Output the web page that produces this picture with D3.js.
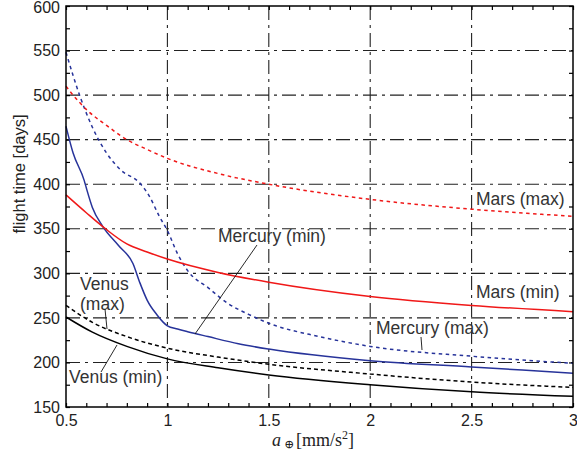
<!DOCTYPE html>
<html>
<head>
<meta charset="utf-8">
<script src="https://cdn.jsdelivr.net/npm/d3@7"></script>
<style>
  body { margin: 0; background: #fff; }
</style>
</head>
<body>
<div id="chartArea"></div>
<script>
// values: [acceleration mm/s^2, flight time days]
var marsMax = [[0.5, 510], [0.535, 500], [0.6, 484], [0.7, 466], [0.8, 450], [0.9, 439], [1.0, 429],
    [1.25, 412], [1.5, 400], [2.0, 383], [2.5, 372], [3.0, 364]];
var marsMin = [[0.5, 388], [0.6, 368], [0.7, 349], [0.8, 333], [0.9, 324], [1.0, 316],
    [1.25, 301], [1.5, 290], [2.0, 274], [2.5, 264], [3.0, 257]];
var mercuryMax = [[0.5, 548], [0.57, 498], [0.63, 464], [0.7, 435], [0.77, 416], [0.865, 401], [0.91, 387],
    [0.96, 364], [1.0, 348], [1.05, 322], [1.1, 303], [1.2, 284], [1.3, 266], [1.4, 254], [1.5, 244],
    [1.75, 229], [2.0, 218], [2.5, 207], [3.0, 199]];
var mercuryMin = [[0.5, 465], [0.535, 435], [0.59, 404], [0.6, 396], [0.63, 374], [0.68, 353], [0.76, 331],
    [0.83, 311], [0.865, 289], [0.9, 270], [0.95, 253], [0.98, 245], [1.0, 241], [1.05, 237.5], [1.1, 234.5],
    [1.2, 229], [1.35, 221], [1.5, 215], [2.0, 202], [2.5, 195], [3.0, 188]];
var venusMax = [[0.5, 264], [0.63, 245], [0.8, 229], [1.0, 216], [1.25, 206], [1.5, 198], [2.0, 187],
    [2.5, 178], [3.0, 172]];
var venusMin = [[0.5, 251], [0.63, 234], [0.8, 218], [1.0, 204], [1.25, 194], [1.5, 186], [2.0, 175],
    [2.5, 167], [3.0, 162]];

var xTicks = [0.5, 1, 1.5, 2, 2.5, 3];
var yTicks = [150, 200, 250, 300, 350, 400, 450, 500, 550, 600];

var sans = '"Liberation Sans", Arial, sans-serif';
var serif = '"Liberation Serif", "DejaVu Serif", serif';

var margin = { top: 6, right: 4, bottom: 50, left: 66 };
var w = 577 - margin.left - margin.right,
    h = 457 - margin.top - margin.bottom;

var page = d3.select('#chartArea').append('svg')
    .attr('width', 577)
    .attr('height', 457);
var svg = page.append('g')
    .attr('transform', 'translate(' + margin.left + ', ' + margin.top + ')');

var xScale = d3.scaleLinear().domain([0.5, 3]).range([0, w]);
var yScale = d3.scaleLinear().domain([150, 600]).range([h, 0]);

// grid (dash-dot)
var dash = '14,5,3,5';
svg.selectAll('.vgrid')
    .data(xTicks.slice(1, -1))
    .enter().append('line')
    .attr('x1', function(d) { return xScale(d); })
    .attr('x2', function(d) { return xScale(d); })
    .attr('y1', 0).attr('y2', h)
    .attr('stroke', '#222').attr('stroke-width', 1.1)
    .attr('stroke-dasharray', dash);
svg.selectAll('.hgrid')
    .data(yTicks.slice(1, -1))
    .enter().append('line')
    .attr('y1', function(d) { return yScale(d); })
    .attr('y2', function(d) { return yScale(d); })
    .attr('x1', 0).attr('x2', w)
    .attr('stroke', '#222').attr('stroke-width', 1.1)
    .attr('stroke-dasharray', dash);

// inward ticks on all four sides
svg.append('g').attr('transform', 'translate(0,' + h + ')')
    .call(d3.axisBottom(xScale).tickValues(d3.range(0.5, 3.01, 0.1)).tickSize(-4).tickFormat(''));
svg.append('g')
    .call(d3.axisTop(xScale).tickValues(d3.range(0.5, 3.01, 0.1)).tickSize(-4).tickFormat(''));
svg.append('g')
    .call(d3.axisLeft(yScale).tickValues(d3.range(150, 601, 25)).tickSize(-4).tickFormat(''));
svg.append('g').attr('transform', 'translate(' + w + ',0)')
    .call(d3.axisRight(yScale).tickValues(d3.range(150, 601, 25)).tickSize(-4).tickFormat(''));
svg.selectAll('.domain').remove();
svg.selectAll('.tick line').attr('stroke', '#000').attr('stroke-width', 1.2);

// tick labels
var xAxis = svg.append('g').attr('transform', 'translate(0,' + h + ')')
    .call(d3.axisBottom(xScale).tickValues(xTicks).tickSize(0).tickPadding(8).tickFormat(String));
var yAxis = svg.append('g')
    .call(d3.axisLeft(yScale).tickValues(yTicks).tickSize(0).tickPadding(6).tickFormat(String));
[xAxis, yAxis].forEach(function(a) {
    a.select('.domain').remove();
    a.selectAll('text').style('font-size', '16px').style('fill', '#222').style('font-family', sans);
});
yAxis.selectAll('text').filter(function(d) { return d === 600; }).attr('dy', '0.42em');

// curves
var line = d3.line()
    .x(function(d) { return xScale(d[0]); })
    .y(function(d) { return yScale(d[1]); })
    .curve(d3.curveMonotoneX);

var series = [
    { data: venusMin, color: '#000', dash: null },
    { data: venusMax, color: '#000', dash: '4,3' },
    { data: mercuryMin, color: '#27339a', dash: null },
    { data: mercuryMax, color: '#27339a', dash: '3.5,3.5' },
    { data: marsMin, color: '#f01818', dash: null },
    { data: marsMax, color: '#f01818', dash: '3.5,3.5' }
];
svg.selectAll('.curve')
    .data(series)
    .enter().append('path')
    .attr('class', 'curve')
    .attr('d', function(d) { return line(d.data); })
    .attr('fill', 'none')
    .attr('stroke', function(d) { return d.color; })
    .attr('stroke-width', 1.5)
    .attr('stroke-dasharray', function(d) { return d.dash; });

// frame
svg.append('rect')
    .attr('width', w).attr('height', h)
    .attr('fill', 'none').attr('stroke', '#000').attr('stroke-width', 1.5);

// curve labels (page coordinates)
var labels = [
    { t: 'Mars (max)', x: 476, y: 205 },
    { t: 'Mars (min)', x: 476, y: 298 },
    { t: 'Mercury (max)', x: 376, y: 334 },
    { t: 'Mercury (min)', x: 218, y: 242 },
    { t: 'Venus', x: 80, y: 290 },
    { t: '(max)', x: 80, y: 310 },
    { t: 'Venus (min)', x: 69, y: 383 }
];
page.selectAll('.lbl')
    .data(labels)
    .enter().append('text')
    .attr('x', function(d) { return d.x; })
    .attr('y', function(d) { return d.y; })
    .style('font-family', sans)
    .style('font-size', '17.5px')
    .style('fill', '#333')
    .text(function(d) { return d.t; });

// leader lines
var leaders = [
    [105, 309, 107, 329],
    [117, 345, 101, 372],
    [257, 245, 195, 334],
    [421, 337, 422, 350]
];
page.selectAll('.leader')
    .data(leaders)
    .enter().append('line')
    .attr('x1', function(d) { return d[0]; })
    .attr('y1', function(d) { return d[1]; })
    .attr('x2', function(d) { return d[2]; })
    .attr('y2', function(d) { return d[3]; })
    .attr('stroke', '#111').attr('stroke-width', 0.9);

// axis titles
page.append('text')
    .attr('transform', 'translate(25,174) rotate(-90)')
    .attr('text-anchor', 'middle')
    .style('font-family', sans)
    .style('font-size', '16.5px')
    .style('fill', '#222')
    .text('flight time [days]');

var xl = page.append('text')
    .attr('x', 272).attr('y', 446)
    .style('font-family', serif)
    .style('font-size', '18px')
    .style('fill', '#222');
xl.append('tspan').style('font-style', 'italic').text('a');
xl.append('tspan').style('font-size', '12px').attr('dx', 3).attr('dy', 2).text('\u2295');
xl.append('tspan').attr('dx', 2).attr('dy', -2).text('[mm/s');
xl.append('tspan').style('font-size', '12px').attr('dy', -7).text('2');
xl.append('tspan').attr('dy', 7).text(']');
</script>
</body>
</html>
